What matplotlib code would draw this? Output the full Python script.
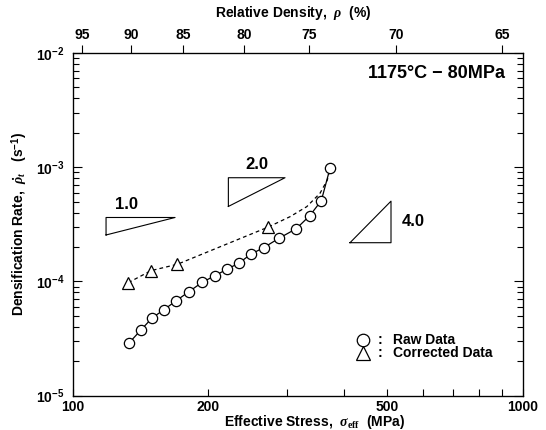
import numpy as np
import matplotlib
matplotlib.use('Agg')
import matplotlib.pyplot as plt
from matplotlib.ticker import FixedLocator, FixedFormatter, NullLocator

plt.rcParams['font.family'] = 'Liberation Sans'
plt.rcParams['font.weight'] = 'bold'
plt.rcParams['mathtext.fontset'] = 'custom'
plt.rcParams['mathtext.rm'] = 'Liberation Serif'
plt.rcParams['mathtext.it'] = 'Liberation Serif:italic'
plt.rcParams['mathtext.bf'] = 'Liberation Sans:bold'

# Datos
raw_stress = [133.7, 141.9, 150.2, 159.6, 170.0, 181.4, 194.1, 207.2, 220.7, 233.9,
              248.6, 265.7, 287.3, 313.9, 336.2, 356.7, 372.9]
raw_rate = [2.905e-5, 3.753e-5, 4.78e-5, 5.65e-5, 6.78e-5, 8.13e-5, 9.82e-5, 1.122e-4,
            1.284e-4, 1.44e-4, 1.727e-4, 1.973e-4, 2.385e-4, 2.894e-4, 3.76e-4,
            5.09e-4, 9.78e-4]

corr_stress = [133.0, 149.4, 170.9, 271.2]
corr_rate = [9.74e-5, 1.241e-4, 1.411e-4, 2.975e-4]

# curva discontinua (triangulos + tramo final hasta el primer punto)
dash_stress = [133.0, 149.4, 170.9, 271.2, 304.0, 331.1, 354.3, 367.8, 372.9]
dash_rate = [9.74e-5, 1.241e-4, 1.411e-4, 2.975e-4, 3.685e-4, 4.51e-4, 5.91e-4, 7.72e-4, 9.78e-4]

# triangulos de pendiente
slope_labels = ['1.0', '2.0', '4.0']
slope_n = [1.0, 2.0, 4.0]
slope_x0 = [118.7, 221.8, 413.0]
slope_x1 = [168.9, 296.3, 509.3]
slope_ybot = [2.548e-4, 4.53e-4, 2.18e-4]

# eje superior: densidad relativa
rho_labels = ['95', '90', '85', '80', '75', '70', '65']
rho_stress = [104.9, 134.7, 176.0, 240.1, 335.7, 522.8, 899.5]

x_ticks = [100, 200, 300, 400, 500, 600, 700, 800, 900, 1000]
x_labels = ['100', '200', '', '', '500', '', '', '', '', '1000']
y_ticks = [1e-5, 1e-4, 1e-3, 1e-2]
y_labels = [r'$\mathbf{10^{-5}}$', r'$\mathbf{10^{-4}}$', r'$\mathbf{10^{-3}}$', r'$\mathbf{10^{-2}}$']

fig = plt.figure(figsize=(5.46, 4.30), dpi=100)
ax = fig.add_axes([0.1328, 0.0802, 0.8251, 0.7965])
ax.set_xscale('log')
ax.set_yscale('log')
ax.set_xlim(100, 1000)
ax.set_ylim(1e-5, 1e-2)

# Datos
ax.plot(dash_stress, dash_rate, color='black', lw=0.9, ls=(0, (3, 2.5)))
ax.plot(raw_stress, raw_rate, color='black', lw=0.9, marker='o', ms=7.4,
        mfc='white', mec='black', mew=0.9)
ax.plot(corr_stress, corr_rate, ls='none', marker='^', ms=8, mfc='white',
        mec='black', mew=0.9)

# Triangulos de pendiente
for lab, n, x0, x1, yb in zip(slope_labels, slope_n, slope_x0, slope_x1, slope_ybot):
    yt = yb * (x1 / x0) ** n
    if n < 3:
        ax.plot([x0, x1, x0, x0], [yb, yt, yt, yb], color='black', lw=0.8)
        ax.annotate(lab, xy=(np.sqrt(x0 * x1) if n > 1 else x0 * (x1 / x0) ** 0.3, yt),
                    xytext=(0, 4), textcoords='offset points', ha='center', va='bottom',
                    fontsize=12, fontweight='bold')
    else:
        ax.plot([x0, x1, x1, x0], [yb, yb, yt, yb], color='black', lw=0.8)
        ax.annotate(lab, xy=(x1, np.sqrt(yb * yt)), xytext=(8, 0),
                    textcoords='offset points', ha='left', va='center',
                    fontsize=12, fontweight='bold')

ax.text(0.96, 0.965, '1175°C − 80MPa', transform=ax.transAxes, ha='right', va='top',
        fontsize=13, fontweight='bold')

# Leyenda manual
ax.plot([0.644], [0.162], transform=ax.transAxes, marker='o', ms=9, mfc='white',
        mec='black', mew=0.9, clip_on=False)
ax.plot([0.644], [0.123], transform=ax.transAxes, marker='^', ms=10, mfc='white',
        mec='black', mew=0.9, clip_on=False)
for yy, txt in [(0.162, 'Raw Data'), (0.123, 'Corrected Data')]:
    ax.text(0.683, yy, ':', transform=ax.transAxes, ha='center', va='center', fontsize=10)
    ax.text(0.711, yy, txt, transform=ax.transAxes, ha='left', va='center', fontsize=10)

# Ejes
ax.xaxis.set_major_locator(FixedLocator(x_ticks))
ax.xaxis.set_major_formatter(FixedFormatter(x_labels))
ax.xaxis.set_minor_locator(NullLocator())
ax.yaxis.set_major_locator(FixedLocator(y_ticks))
ax.yaxis.set_major_formatter(FixedFormatter(y_labels))
ax.tick_params(axis='x', which='major', direction='in', top=True, length=5, width=0.8,
               labelsize=10, pad=3)
ax.tick_params(axis='y', which='major', direction='in', right=True, length=6.5, width=0.8,
               labelsize=10, pad=6)
ax.tick_params(axis='y', which='minor', direction='in', right=True, length=4, width=0.8)
for s in ax.spines.values():
    s.set_linewidth(0.9)

ax.set_xlabel(r'Effective Stress,  $\sigma_{\rm eff}$  (MPa)', fontsize=10, fontweight='bold')
ax.xaxis.set_label_coords(0.538, -0.051)
ax.set_ylabel(r'Densification Rate,  $\dot{\rho}_t$   (s$^{\mathbf{-1}}$)', fontsize=10,
              fontweight='bold')
ax.yaxis.set_label_coords(-0.095, 0.5)

ax2 = ax.twiny()
ax2.set_xscale('log')
ax2.set_xlim(100, 1000)
ax2.xaxis.set_major_locator(FixedLocator(rho_stress))
ax2.xaxis.set_major_formatter(FixedFormatter(rho_labels))
ax2.xaxis.set_minor_locator(NullLocator())
ax2.tick_params(axis='x', which='major', direction='out', length=6, width=0.8,
                labelsize=10, pad=2)
ax2.set_xlabel(r'Relative Density,  $\rho$  (%)', fontsize=10, fontweight='bold', labelpad=3)
ax2.xaxis.set_label_coords(0.49, 1.105)

fig.savefig('out.png', dpi=100)
